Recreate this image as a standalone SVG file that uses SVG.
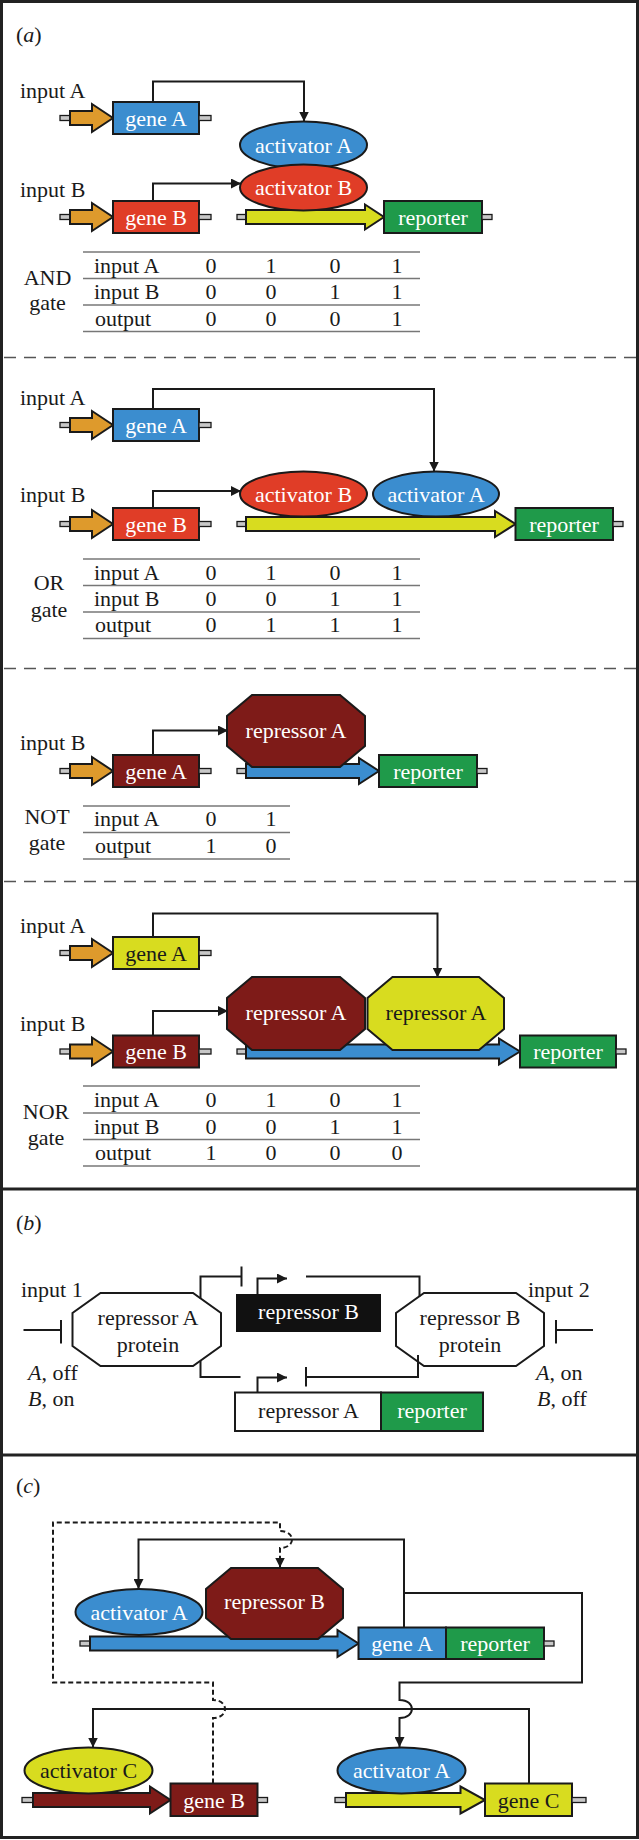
<svg xmlns="http://www.w3.org/2000/svg" width="639" height="1840" viewBox="0 0 639 1840">
<defs>
<style>
.t{font-family:"Liberation Serif","Times New Roman",serif;font-size:22px;fill:#1a1a1a}
.w{fill:#fff}
.m{text-anchor:middle}
.bx{stroke:#1a1a1a;stroke-width:2}
.stub{fill:#c8c8c8;stroke:#1a1a1a;stroke-width:1.3}
.ln{fill:none;stroke:#1a1a1a;stroke-width:2}
.dl{fill:none;stroke:#1a1a1a;stroke-width:2;stroke-dasharray:5 3}
.tb{stroke:#777;stroke-width:1.5}
.sep{stroke:#555;stroke-width:1.3;stroke-dasharray:12 8}
.blue{fill:#3b8dcf}.red{fill:#e03d27}.dred{fill:#7e1b18}.grn{fill:#1f9a4a}.yel{fill:#d8dc1f}.org{fill:#de9a2c}.wht{fill:#fff}.blk{fill:#111}
</style>
<marker id="ah" markerUnits="userSpaceOnUse" markerWidth="10" markerHeight="10" viewBox="0 0 10 10" refX="10" refY="5" orient="auto"><path d="M0,0 L10,5 L0,10 z" fill="#1a1a1a"/></marker>
</defs>
<rect x="0" y="0" width="639" height="1840" fill="#fff"/>

<!-- frame -->
<g id="frame" fill="none" stroke="#222" stroke-width="3">
<rect x="1.5" y="1.5" width="636" height="1836"/>
<line x1="0" y1="1189" x2="639" y2="1189"/>
<line x1="0" y1="1455" x2="639" y2="1455"/>
</g>
<g id="separators">
<line class="sep" x1="4" y1="357.5" x2="636" y2="357.5"/>
<line class="sep" x1="4" y1="668.5" x2="636" y2="668.5"/>
<line class="sep" x1="4" y1="881.5" x2="636" y2="881.5"/>
</g>

<text class="t" x="16" y="42">(<tspan font-style="italic">a</tspan>)</text>
<text class="t" x="16" y="1230">(<tspan font-style="italic">b</tspan>)</text>
<text class="t" x="16" y="1493">(<tspan font-style="italic">c</tspan>)</text>

<!-- ===== AND gate ===== -->
<g id="and-geneA">
<text class="t" x="20" y="98">input A</text>
<rect class="stub" x="60" y="115.5" width="10" height="5"/>
<polygon class="org bx" points="70,111 92,111 92,104 113,118 92,132 92,125 70,125"/>
<rect class="blue bx" x="113" y="102" width="86" height="32"/>
<rect class="stub" x="199" y="115.5" width="12" height="5"/>
<text class="t w m" x="156" y="125.5">gene A</text>
</g>
<g id="and-geneB">
<text class="t" x="20" y="197">input B</text>
<rect class="stub" x="60" y="214.5" width="10" height="5"/>
<polygon class="org bx" points="70,210 92,210 92,203 113,217 92,231 92,224 70,224"/>
<rect class="red bx" x="113" y="201" width="86" height="32"/>
<rect class="stub" x="199" y="214.5" width="12" height="5"/>
<text class="t w m" x="156" y="224.5">gene B</text>
</g>
<g id="and-reporter">
<rect class="stub" x="237" y="214.5" width="9" height="5"/>
<polygon class="yel bx" points="246,210 365,210 365,204.5 384,217 365,229.5 365,224 246,224"/>
<rect class="grn bx" x="384" y="201" width="98" height="32"/>
<rect class="stub" x="482" y="214.5" width="10" height="5"/>
<text class="t w m" x="433" y="224.5">reporter</text>
</g>
<g id="and-actA">
<ellipse class="blue bx" cx="303.5" cy="145" rx="63.5" ry="23.5"/>
<text class="t w m" x="303.5" y="152.5">activator A</text>
</g>
<g id="and-actB">
<ellipse class="red bx" cx="303.5" cy="187.5" rx="63.5" ry="23"/>
<text class="t w m" x="303.5" y="195">activator B</text>
</g>
<g id="and-table">
<line class="tb" x1="83" y1="252" x2="420" y2="252"/>
<line class="tb" x1="83" y1="278.5" x2="420" y2="278.5"/>
<line class="tb" x1="83" y1="305" x2="420" y2="305"/>
<line class="tb" x1="83" y1="331.5" x2="420" y2="331.5"/>
<text class="t m" x="47.5" y="285">AND</text>
<text class="t m" x="47.5" y="310">gate</text>
<text class="t" x="94" y="272.5">input A</text>
<text class="t" x="94" y="299">input B</text>
<text class="t" x="95" y="325.5">output</text>
<g class="t m">
<text x="211" y="272.5">0</text><text x="271" y="272.5">1</text><text x="335" y="272.5">0</text><text x="397" y="272.5">1</text>
<text x="211" y="299">0</text><text x="271" y="299">0</text><text x="335" y="299">1</text><text x="397" y="299">1</text>
<text x="211" y="325.5">0</text><text x="271" y="325.5">0</text><text x="335" y="325.5">0</text><text x="397" y="325.5">1</text>
</g>
</g>

<!-- ===== OR gate ===== -->
<g id="or-geneA">
<text class="t" x="20" y="405">input A</text>
<rect class="stub" x="60" y="422.5" width="10" height="5"/>
<polygon class="org bx" points="70,418 92,418 92,411 113,425 92,439 92,432 70,432"/>
<rect class="blue bx" x="113" y="409" width="86" height="32"/>
<rect class="stub" x="199" y="422.5" width="12" height="5"/>
<text class="t w m" x="156" y="432.5">gene A</text>
</g>
<g id="or-geneB">
<text class="t" x="20" y="502">input B</text>
<rect class="stub" x="60" y="521.5" width="10" height="5"/>
<polygon class="org bx" points="70,517 92,517 92,510 113,524 92,538 92,531 70,531"/>
<rect class="red bx" x="113" y="508" width="86" height="32"/>
<rect class="stub" x="199" y="521.5" width="12" height="5"/>
<text class="t w m" x="156" y="531.5">gene B</text>
</g>
<g id="or-reporter">
<rect class="stub" x="237" y="521.5" width="9" height="5"/>
<polygon class="yel bx" points="246,517 495,517 495,511 515.5,524 495,537 495,531 246,531"/>
<rect class="grn bx" x="515.5" y="508" width="97.5" height="32"/>
<rect class="stub" x="613" y="521.5" width="10" height="5"/>
<text class="t w m" x="564" y="531.5">reporter</text>
</g>
<g id="or-actB">
<ellipse class="red bx" cx="303.5" cy="494" rx="63.5" ry="22.5"/>
<text class="t w m" x="303.5" y="501.5">activator B</text>
</g>
<g id="or-actA">
<ellipse class="blue bx" cx="436" cy="494" rx="63" ry="22.5"/>
<text class="t w m" x="436" y="501.5">activator A</text>
</g>
<g id="or-table">
<line class="tb" x1="83" y1="559" x2="420" y2="559"/>
<line class="tb" x1="83" y1="585.5" x2="420" y2="585.5"/>
<line class="tb" x1="83" y1="612" x2="420" y2="612"/>
<line class="tb" x1="83" y1="638.5" x2="420" y2="638.5"/>
<text class="t m" x="49" y="590">OR</text>
<text class="t m" x="49" y="617">gate</text>
<text class="t" x="94" y="579.5">input A</text>
<text class="t" x="94" y="606">input B</text>
<text class="t" x="95" y="632">output</text>
<g class="t m">
<text x="211" y="579.5">0</text><text x="271" y="579.5">1</text><text x="335" y="579.5">0</text><text x="397" y="579.5">1</text>
<text x="211" y="606">0</text><text x="271" y="606">0</text><text x="335" y="606">1</text><text x="397" y="606">1</text>
<text x="211" y="632">0</text><text x="271" y="632">1</text><text x="335" y="632">1</text><text x="397" y="632">1</text>
</g>
</g>

<!-- ===== NOT gate ===== -->
<g id="not-geneA">
<text class="t" x="20" y="750">input B</text>
<rect class="stub" x="60" y="768.5" width="10" height="5"/>
<polygon class="org bx" points="70,764 92,764 92,757 113,771 92,785 92,778 70,778"/>
<rect class="dred bx" x="113" y="755" width="86" height="32"/>
<rect class="stub" x="199" y="768.5" width="12" height="5"/>
<text class="t w m" x="156" y="778.5">gene A</text>
</g>
<g id="not-reporter">
<rect class="stub" x="237" y="768.5" width="9" height="5"/>
<polygon class="blue bx" points="246,764 359,764 359,758 379,771 359,784 359,778 246,778"/>
<rect class="grn bx" x="379" y="755" width="98" height="32"/>
<rect class="stub" x="477" y="768.5" width="10" height="5"/>
<text class="t w m" x="428" y="778.5">reporter</text>
</g>
<g id="not-repA">
<polygon class="dred bx" points="252,695 340,695 365,716 365,746 340,767 252,767 227,746 227,716"/>
<text class="t w m" x="296" y="738">repressor A</text>
</g>
<g id="not-table">
<line class="tb" x1="83" y1="806" x2="290" y2="806"/>
<line class="tb" x1="83" y1="832.5" x2="290" y2="832.5"/>
<line class="tb" x1="83" y1="859" x2="290" y2="859"/>
<text class="t m" x="47" y="823.5">NOT</text>
<text class="t m" x="47" y="850">gate</text>
<text class="t" x="94" y="826">input A</text>
<text class="t" x="95" y="852.5">output</text>
<g class="t m">
<text x="211" y="826">0</text><text x="271" y="826">1</text>
<text x="211" y="852.5">1</text><text x="271" y="852.5">0</text>
</g>
</g>

<!-- ===== NOR gate ===== -->
<g id="nor-geneA">
<text class="t" x="20" y="933">input A</text>
<rect class="stub" x="60" y="950.5" width="10" height="5"/>
<polygon class="org bx" points="70,946 92,946 92,939 113,953 92,967 92,960 70,960"/>
<rect class="yel bx" x="113" y="937" width="86" height="32"/>
<rect class="stub" x="199" y="950.5" width="12" height="5"/>
<text class="t m" x="156" y="960.5">gene A</text>
</g>
<g id="nor-geneB">
<text class="t" x="20" y="1031">input B</text>
<rect class="stub" x="60" y="1049" width="10" height="5"/>
<polygon class="org bx" points="70,1044.5 92,1044.5 92,1037.5 113,1051.5 92,1065.5 92,1058.5 70,1058.5"/>
<rect class="dred bx" x="113" y="1035.5" width="86" height="32"/>
<rect class="stub" x="199" y="1049" width="12" height="5"/>
<text class="t w m" x="156" y="1059">gene B</text>
</g>
<g id="nor-reporter">
<rect class="stub" x="237" y="1049" width="9" height="5"/>
<polygon class="blue bx" points="246,1044.5 499,1044.5 499,1038.5 520,1051.5 499,1064.5 499,1058.5 246,1058.5"/>
<rect class="grn bx" x="520" y="1035.5" width="96" height="32"/>
<rect class="stub" x="616" y="1049" width="10" height="5"/>
<text class="t w m" x="568" y="1059">reporter</text>
</g>
<g id="nor-repA1">
<polygon class="dred bx" points="252,977 340,977 365,998 365,1029 340,1050 252,1050 227,1029 227,998"/>
<text class="t w m" x="296" y="1020">repressor A</text>
</g>
<g id="nor-repA2">
<polygon class="yel bx" points="392.5,977 479,977 504,998 504,1029 479,1050 392.5,1050 367.5,1029 367.5,998"/>
<text class="t m" x="436" y="1020">repressor A</text>
</g>
<g id="nor-table">
<line class="tb" x1="83" y1="1086" x2="420" y2="1086"/>
<line class="tb" x1="83" y1="1113" x2="420" y2="1113"/>
<line class="tb" x1="83" y1="1139.5" x2="420" y2="1139.5"/>
<line class="tb" x1="83" y1="1166" x2="420" y2="1166"/>
<text class="t m" x="46" y="1118.5">NOR</text>
<text class="t m" x="46" y="1145">gate</text>
<text class="t" x="94" y="1107">input A</text>
<text class="t" x="94" y="1133.5">input B</text>
<text class="t" x="95" y="1160">output</text>
<g class="t m">
<text x="211" y="1107">0</text><text x="271" y="1107">1</text><text x="335" y="1107">0</text><text x="397" y="1107">1</text>
<text x="211" y="1133.5">0</text><text x="271" y="1133.5">0</text><text x="335" y="1133.5">1</text><text x="397" y="1133.5">1</text>
<text x="211" y="1160">1</text><text x="271" y="1160">0</text><text x="335" y="1160">0</text><text x="397" y="1160">0</text>
</g>
</g>

<!-- ===== panel b ===== -->
<g id="b-input1">
<text class="t" x="21" y="1297">input 1</text>
<text class="t" x="28" y="1379.5"><tspan font-style="italic">A</tspan>, off</text>
<text class="t" x="28" y="1406"><tspan font-style="italic">B</tspan>, on</text>
</g>
<g id="b-input2">
<text class="t" x="528" y="1297">input 2</text>
<text class="t" x="536" y="1379.5"><tspan font-style="italic">A</tspan>, on</text>
<text class="t" x="537" y="1406"><tspan font-style="italic">B</tspan>, off</text>
</g>
<g id="b-repAprot">
<polygon class="wht bx" points="100.5,1293 193,1293 221,1313 221,1346 193,1366 100.5,1366 72.5,1346 72.5,1313"/>
<text class="t m" x="148" y="1325">repressor A</text>
<text class="t m" x="148" y="1351.5">protein</text>
</g>
<g id="b-repBprot">
<polygon class="wht bx" points="424,1293 516,1293 544,1313 544,1346 516,1366 424,1366 396,1346 396,1313"/>
<text class="t m" x="470" y="1325">repressor B</text>
<text class="t m" x="470" y="1351.5">protein</text>
</g>
<g id="b-repBgene">
<rect class="blk" x="236" y="1294" width="145" height="38"/>
<text class="t w m" x="308.5" y="1319">repressor B</text>
</g>
<g id="b-repAgene">
<rect class="wht bx" x="235" y="1392.5" width="146" height="38.5"/>
<rect class="grn bx" x="381" y="1392.5" width="102" height="38.5"/>
<text class="t m" x="308.5" y="1418">repressor A</text>
<text class="t w m" x="432" y="1418">reporter</text>
</g>

<!-- ===== panel c ===== -->
<g id="c-geneA">
<rect class="stub" x="80" y="1641" width="10" height="5"/>
<polygon class="blue bx" points="90,1636.5 337.5,1636.5 337.5,1630 358.5,1643.5 337.5,1657 337.5,1650.5 90,1650.5"/>
<rect class="blue bx" x="358.5" y="1627.5" width="87.5" height="31.5"/>
<rect class="grn bx" x="446" y="1627.5" width="98" height="31.5"/>
<rect class="stub" x="544" y="1641" width="10" height="5"/>
<text class="t w m" x="402" y="1650.5">gene A</text>
<text class="t w m" x="495" y="1650.5">reporter</text>
</g>
<g id="c-actA1">
<ellipse class="blue bx" cx="139" cy="1612" rx="63.5" ry="23"/>
<text class="t w m" x="139" y="1619.5">activator A</text>
</g>
<g id="c-repB">
<polygon class="dred bx" points="231,1568 318,1568 343,1589 343,1618 318,1639 231,1639 206,1618 206,1589"/>
<text class="t w m" x="274.5" y="1609">repressor B</text>
</g>
<g id="c-geneB">
<rect class="stub" x="22" y="1797.5" width="11" height="5"/>
<polygon class="dred bx" points="33,1793 150,1793 150,1786.5 170.5,1800 150,1813.5 150,1807 33,1807"/>
<rect class="dred bx" x="170.5" y="1783.5" width="87" height="32.5"/>
<rect class="stub" x="257.5" y="1797.5" width="10" height="5"/>
<text class="t w m" x="214" y="1807.5">gene B</text>
</g>
<g id="c-actC">
<ellipse class="yel bx" cx="88.5" cy="1770.5" rx="64" ry="23"/>
<text class="t m" x="88.5" y="1778">activator C</text>
</g>
<g id="c-geneC">
<rect class="stub" x="335" y="1797.5" width="11" height="5"/>
<polygon class="yel bx" points="346,1793 460.5,1793 460.5,1786.5 485,1800 460.5,1813.5 460.5,1807 346,1807"/>
<rect class="yel bx" x="485" y="1783.5" width="87" height="32.5"/>
<rect class="stub" x="572" y="1797.5" width="14" height="5"/>
<text class="t m" x="528.5" y="1807.5">gene C</text>
</g>
<g id="c-actA2">
<ellipse class="blue bx" cx="401.5" cy="1770.5" rx="64" ry="23"/>
<text class="t w m" x="401.5" y="1778">activator A</text>
</g>

<!-- ===== connectors ===== -->
<g id="connectors">
<path class="ln" d="M153,102 V81.5 H304 V121.5" marker-end="url(#ah)"/>
<path class="ln" d="M153,201 V183.5 H241" marker-end="url(#ah)"/>
<path class="ln" d="M153,409 V389 H434 V471.5" marker-end="url(#ah)"/>
<path class="ln" d="M153,508 V491 H241" marker-end="url(#ah)"/>
<path class="ln" d="M153,755 V730.5 H228" marker-end="url(#ah)"/>
<path class="ln" d="M153,937 V913.5 H437.5 V977.5" marker-end="url(#ah)"/>
<path class="ln" d="M153,1035.5 V1011 H228" marker-end="url(#ah)"/>
<!-- panel b -->
<path class="ln" d="M23.5,1330 H61 M61,1320 V1343.5"/>
<path class="ln" d="M556,1320 V1343.5 M556,1330 H593"/>
<path class="ln" d="M200.5,1298.5 V1276.5 H241.5 M241.5,1266.5 V1286.5"/>
<path class="ln" d="M257.5,1294 V1278.5 H287" marker-end="url(#ah)"/>
<path class="ln" d="M306,1276.5 H419.5 V1296.5"/>
<path class="ln" d="M200.5,1361 V1377 H240.5"/>
<path class="ln" d="M257.5,1392.5 V1377.5 H287" marker-end="url(#ah)"/>
<path class="ln" d="M306,1367 V1386.5 M306,1377 H418 V1355"/>
<!-- panel c -->
<path class="ln" d="M404,1627.5 V1539.5 H138.5 V1589" marker-end="url(#ah)"/>
<path class="ln" d="M404,1593 H582 V1682.5 H399.5 V1700 C416,1700 416,1718 399.5,1718 V1747" marker-end="url(#ah)"/>
<path class="ln" d="M529,1783.5 V1709 H93 V1747.5" marker-end="url(#ah)"/>
<path class="dl" d="M213,1783.5 V1718 C229,1718 229,1700 213,1700 V1682.5 H53 V1522.5 H280 V1531 C296,1531 296,1548 280,1548 V1567.5" marker-end="url(#ah)"/>
</g>
</svg>
